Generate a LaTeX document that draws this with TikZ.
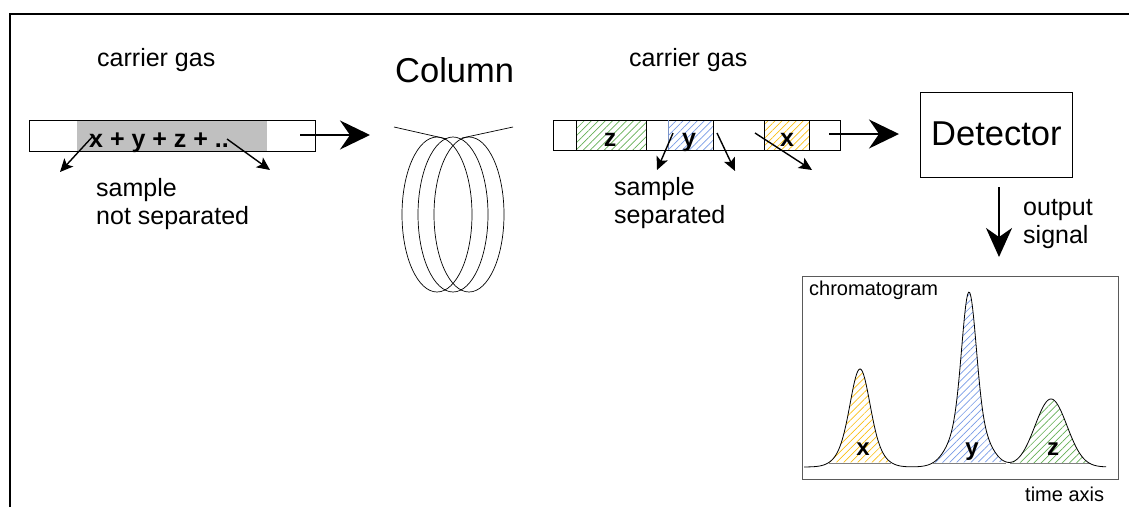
\documentclass[tikz,border=0pt]{standalone}
\usepackage{fontspec}
\setmainfont{Liberation Sans}
\usetikzlibrary{arrows.meta,patterns.meta,calc}
\definecolor{hgreen}{RGB}{100,175,85}
\definecolor{hblue}{RGB}{120,155,230}
\definecolor{hyellow}{RGB}{250,190,20}
\definecolor{bargray}{RGB}{192,192,192}
\definecolor{framegray}{RGB}{90,90,90}
\begin{document}
\begin{tikzpicture}[x=1pt,y=-1pt,
  txt/.style={inner sep=0pt, anchor=base west, font=\fontsize{25}{28}\selectfont},
  bigtxt/.style={inner sep=0pt, anchor=base west, font=\fontsize{34.5}{40}\selectfont},
  smalltxt/.style={inner sep=0pt, anchor=base west, font=\fontsize{20}{24}\selectfont},
  boldtxt/.style={inner sep=0pt, anchor=base, font=\fontsize{25}{28}\selectfont\bfseries},
  bigarrow/.style={line width=2pt, -{Stealth[length=30pt,width=29pt,inset=10pt]}},
  smallarrow/.style={line width=1.4pt, -{Stealth[length=13pt,width=12pt,inset=3pt]}},
  hatch/.style={pattern={Lines[angle=45,distance=5pt,line width=0.7pt]}, pattern color=#1},
  declare function={
    px(\x)=60*exp(-((\x-860)/9)^2/2)+38*exp(-((\x-860)/15)^2/2);
    py(\x)=120*exp(-((\x-969)/7)^2/2)+55*exp(-((\x-969)/16)^2/2);
    pz(\x)=68*exp(-((\x-1051)/16)^2/2);
    fc(\x)=467-px(\x)-py(\x)-pz(\x);
  }
]
\useasboundingbox (0,0) rectangle (1129,507);
% frame
\draw[line width=2pt] (10,507) -- (10,14) -- (1129,14);

% ---- left part
\node[txt] (cg1) at (97,66) {carrier gas};
\fill[bargray] (77,120) rectangle (267,151);
\node[draw, line width=0.8pt, minimum width=286pt, minimum height=31pt, inner sep=0pt] (lbar) at (172,135.5) {};
\node[boldtxt, anchor=base west] (mix) at (89,147) {x + y + z + ..};
\node[txt] (s1a) at (96,196) {sample};
\node[txt] (s1b) at (96,224) {not separated};
\coordinate (la1s) at (94,135);  \coordinate (la1e) at (60,172);
\coordinate (la2s) at (227,139); \coordinate (la2e) at (270,170);
\draw[smallarrow] (la1s) -- (la1e);
\draw[smallarrow] (la2s) -- (la2e);
\coordinate (a1s) at (300,135); \coordinate (a1e) at (370,135);
\draw[bigarrow] (a1s) -- (a1e);

% ---- column
\node[bigtxt] (col) at (395,82) {Column};
\draw[line width=0.7pt] (437,214.5) ellipse [x radius=35, y radius=77.5];
\draw[line width=0.7pt] (453,214.5) ellipse [x radius=35, y radius=77.5];
\draw[line width=0.7pt] (469,214.5) ellipse [x radius=35, y radius=77.5];
\draw[line width=0.7pt] (394,127) -- (447,139);
\draw[line width=0.7pt] (513,127) -- (462,138);

% ---- right bar
\node[txt] (cg2) at (629,66) {carrier gas};
\path[hatch=hgreen] (576,120) rectangle (646,150);
\path[hatch=hblue] (668,120) rectangle (713,150);
\path[hatch=hyellow] (764,120) rectangle (809,150);
\node[draw, line width=0.8pt, minimum width=287pt, minimum height=30pt, inner sep=0pt] (rbar) at (696.5,135) {};
\draw[line width=0.8pt] (576,120) -- (576,150) (646,120) -- (646,150)
  (713,120) -- (713,150) (764,120) -- (764,150) (809,120) -- (809,150);
\draw[line width=0.8pt, hblue!70!gray] (668,120) -- (668,150);
\node[boldtxt] (bz) at (610,146) {z};
\node[boldtxt] (by) at (689,146) {y};
\node[boldtxt] (bx) at (787,146) {x};
\node[txt] (s2a) at (614,195) {sample};
\node[txt] (s2b) at (614,223) {separated};
\coordinate (ra1s) at (673,133); \coordinate (ra1e) at (657,170);
\coordinate (ra2s) at (717,133); \coordinate (ra2e) at (735,171);
\coordinate (ra3s) at (755,133); \coordinate (ra3e) at (812,170);
\draw[smallarrow] (ra1s) -- (ra1e);
\draw[smallarrow] (ra2s) -- (ra2e);
\draw[smallarrow] (ra3s) -- (ra3e);
\coordinate (a2s) at (829,134); \coordinate (a2e) at (899,134);
\draw[bigarrow] (a2s) -- (a2e);

% ---- detector
\node[draw, line width=0.8pt, minimum width=152pt, minimum height=85pt, inner sep=0pt] (det) at (996,134.5) {};
\node[bigtxt] (dett) at (931,145) {Detector};
\coordinate (a3s) at (999,187); \coordinate (a3e) at (999,257);
\draw[line width=2pt, -{Stealth[length=29pt,width=26pt,inset=9pt]}] (a3s) -- (a3e);
\node[txt] (out1) at (1023,215) {output};
\node[txt] (out2) at (1023,243) {signal};

% ---- chromatogram
\node[draw=framegray, line width=0.9pt, minimum width=316pt, minimum height=203pt, inner sep=0pt] (chrom) at (960,377.5) {};
\node[smalltxt] (chl) at (809,295) {chromatogram};
\node[smalltxt] (tax) at (1025,501) {time axis};
\fill[hatch=hyellow] plot[domain=829:891, samples=60] (\x,{fc(\x)}) -- cycle;
\fill[hatch=hblue] plot[domain=933:1006, samples=80] (\x,{fc(\x)}) -- cycle;
\fill[hatch=hgreen] plot[domain=1010:1091, samples=80] (\x,{fc(\x)}) -- cycle;
\draw[line width=0.5pt, gray] (829,463) -- (891,463) (933,463) -- (1006,463) (1010,463) -- (1091,463);
\draw[line width=0.8pt] plot[domain=804:1106, samples=300, smooth] (\x,{fc(\x)});
\node[boldtxt, font=\fontsize{24}{28}\selectfont\bfseries] (cx) at (863,455) {x};
\node[boldtxt, font=\fontsize{24}{28}\selectfont\bfseries] (cy) at (972,455) {y};
\node[boldtxt, font=\fontsize{24}{28}\selectfont\bfseries] (cz) at (1053,455) {z};
\end{tikzpicture}
\end{document}
